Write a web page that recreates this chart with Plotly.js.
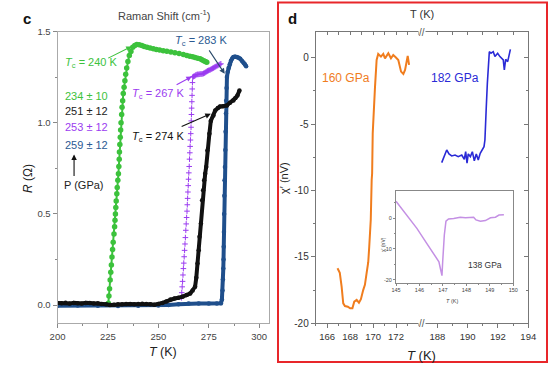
<!DOCTYPE html>
<html><head><meta charset="utf-8">
<script src="https://cdn.plot.ly/plotly-3.0.1.min.js"></script>
<style>html,body{margin:0;padding:0;background:#fff}#chart{width:554px;height:367px}</style>
</head><body><div id="chart"></div>
<script>
// ---------- Panel c data: T (K), R (Ohm) ----------
const greenPts = [[225.2,0.01],[225.5,0.05],[225.8,0.09],[226.1,0.137],[226.4,0.18],[226.7,0.22],[227.0,0.264],[227.3,0.305],[227.6,0.345],[228.0,0.39],[228.3,0.43],[228.5,0.465],[228.7,0.5],[228.9,0.535],[229.1,0.57],[229.4,0.61],[229.6,0.645],[229.9,0.684],[230.2,0.72],[230.4,0.76],[230.6,0.8],[230.7,0.84],[230.9,0.88],[231.1,0.92],[231.3,0.96],[231.5,1.0],[231.8,1.045],[232.0,1.085],[232.3,1.12],[232.6,1.16],[233.0,1.195],[233.4,1.23],[233.8,1.265],[234.3,1.3],[234.9,1.335],[235.6,1.368],[236.4,1.39],[237.3,1.414],[238.3,1.424],[239.3,1.429],[240.5,1.428],[241.8,1.423],[243.0,1.418],[244.4,1.414],[245.9,1.41],[247.5,1.406],[249.0,1.402],[250.6,1.399],[252.4,1.395],[254.2,1.392],[256.2,1.388],[258.2,1.384],[260.3,1.379],[262.4,1.374],[264.1,1.368],[265.6,1.364],[267.0,1.361],[268.2,1.358],[269.5,1.354],[270.7,1.35],[271.6,1.345],[272.5,1.34],[273.3,1.336],[274.0,1.332]];
const purplePts = [[261.5,0.04],[261.6,0.068],[261.8,0.1],[262.0,0.13],[262.2,0.165],[262.4,0.2],[262.6,0.23],[262.8,0.265],[263.0,0.3],[263.2,0.335],[263.4,0.37],[263.6,0.41],[263.8,0.445],[264.0,0.48],[264.2,0.515],[264.35,0.55],[264.5,0.585],[264.65,0.62],[264.8,0.655],[264.95,0.69],[265.1,0.725],[265.3,0.76],[265.45,0.8],[265.6,0.835],[265.75,0.87],[265.9,0.905],[266.05,0.94],[266.2,0.975],[266.3,1.01],[266.4,1.045],[266.5,1.08],[266.6,1.115],[266.7,1.15],[266.8,1.185],[266.9,1.22],[267.0,1.25],[267.4,1.253],[267.8,1.255],[268.2,1.258],[268.6,1.262],[269.1,1.264],[269.5,1.265],[270.0,1.265],[270.5,1.266],[271.0,1.267],[271.5,1.267],[272.0,1.268],[272.4,1.27],[272.8,1.272],[273.2,1.275],[273.6,1.278],[274.0,1.281],[274.4,1.284],[274.8,1.286],[275.2,1.288],[275.7,1.29],[276.1,1.293],[276.5,1.295],[276.9,1.298],[277.3,1.3],[277.7,1.303],[278.1,1.306],[278.5,1.308],[279.0,1.311],[279.5,1.314],[280.0,1.317],[280.5,1.32],[281.0,1.323]];
const blackPts = [[200,0.012],[202,0.01],[204,0.013],[206,0.008],[208,0.012],[210,0.01],[212,0.009],[214,0.012],[216,0.011],[218,0.008],[220,0.01],[222,0.006],[224,0.004],[226,0.0],[228,0.002],[230,0.004],[232,0.005],[234,0.006],[236,0.006],[238,0.005],[240,0.006],[242,0.007],[244,0.006],[246,0.004],[248,0.002],[250,0.006],[252,0.012],[254,0.02],[256,0.03],[258,0.036],[260,0.04],[262,0.045],[264,0.055],[265.8,0.064],[267,0.08],[268.2,0.1],[268.8,0.15],[269.4,0.228],[270,0.3],[270.4,0.374],[271.1,0.447],[271.7,0.575],[272.2,0.63],[272.7,0.684],[273.2,0.72],[273.7,0.757],[274.3,0.848],[275.3,0.94],[276.0,1.01],[277.3,1.04],[278.2,1.067],[279.5,1.08],[280.6,1.089],[282,1.09],[284,1.095],[285.5,1.11],[287.2,1.122],[288.2,1.135],[289.2,1.149],[290.2,1.177]];
const navyPts = [[200,-0.004],[210,-0.003],[220,-0.004],[230,-0.005],[240,-0.004],[250,-0.002],[255,0.0],[260,0.004],[265,0.008],[270,0.008],[275,0.008],[279,0.008],[281,0.01],[281.5,0.03],[281.8,0.08],[282.0,0.14],[282.2,0.2],[282.3,0.25],[282.4,0.32],[282.5,0.4],[282.6,0.5],[282.7,0.6],[282.8,0.684],[283.0,0.757],[283.2,0.85],[283.3,0.95],[283.5,1.05],[283.6,1.12],[283.8,1.19],[284.0,1.25],[284.4,1.28],[284.8,1.3],[285.4,1.32],[286.0,1.34],[286.6,1.352],[287.2,1.36],[288.0,1.362],[288.9,1.36],[289.8,1.356],[290.6,1.35],[291.4,1.34],[292.2,1.33],[292.9,1.32],[293.5,1.31]];
const pressureLabels = ['234 ± 10','251 ± 12','253 ± 12','259 ± 12'];
const tcLabels = ['240','267','274','283'];

// ---------- Panel d data: T (K), chi' (nV) ----------
const orangePts = [[166.9,-15.86],[167.1,-16.2],[167.26,-17.24],[167.4,-18.5],[167.55,-18.7],[167.8,-18.75],[168.0,-18.87],[168.2,-18.87],[168.36,-18.37],[168.57,-18.24],[168.77,-18.45],[168.94,-18.19],[169.14,-17.5],[169.29,-17.1],[169.44,-16.2],[169.58,-15.4],[169.67,-14.2],[169.8,-12.2],[169.88,-9.2],[169.92,-8.7],[169.97,-5.7],[170.05,-3.9],[170.17,-2.2],[170.31,-0.17],[170.45,0.28],[170.69,0.08],[170.89,0.28],[171.04,-0.05],[171.33,0.33],[171.56,-0.05],[171.76,0.2],[171.97,0.03],[172.2,-0.17],[172.44,-1.05],[172.64,-1.23],[172.79,-0.93],[172.93,-0.05],[173.02,0.13],[173.14,-0.55]];
const blue182Pts = [[188.29,-7.9],[188.46,-7.45],[188.62,-6.95],[188.77,-7.25],[188.95,-7.4],[189.17,-7.33],[189.38,-7.45],[189.61,-7.33],[189.78,-7.65],[189.87,-7.08],[189.96,-7.95],[190.04,-7.25],[190.18,-7.45],[190.31,-7.08],[190.44,-7.76],[190.57,-7.25],[190.7,-7.7],[190.83,-7.2],[190.97,-6.95],[191.08,-6.7],[191.14,-6.2],[191.19,-5.2],[191.23,-3.7],[191.3,-1.93],[191.36,-0.68],[191.43,0.45],[191.54,0.33],[191.69,0.45],[191.8,0.08],[191.98,0.33],[192.13,0.08],[192.25,-0.05],[192.35,-0.17],[192.42,-0.93],[192.51,-0.12],[192.64,-0.3],[192.73,0.08],[192.82,0.63]];
const insetPts = [[145.0,5.5],[145.46,0.97],[145.89,-3.35],[146.31,-8.2],[146.6,-11.5],[146.74,-13.3],[146.83,-14.2],[146.89,-16.3],[146.93,-18.5],[146.96,-18.7],[146.99,-14.2],[147.06,-5.5],[147.13,-1.0],[147.24,-0.3],[147.46,-0.1],[147.74,0.3],[147.96,0.1],[148.17,0.2],[148.31,0.3],[148.41,-0.6],[148.6,-1.0],[148.81,-0.8],[149.03,0.1],[149.24,0.3],[149.39,1.0],[149.6,1.1]];
const dYTicks = [0,-5,-10,-15,-20];
const dYLabels = ['0','-5','-10','-15','-20'];
const dLeftTicks = [166,168,170,172];
const dRightTicks = [188,190,192,194];
const insetYTicks = [0,-10,-20];
const insetYLabels = ['0','-10','-20'];
const insetXTicks = [145,146,147,148,149,150];

// ---------- helpers ----------
const W = 554, H = 367;
const PX = v => v / W, PY = v => 1 - v / H;
const xs = a => a.map(p => p[0]), ys = a => a.map(p => p[1]);
const FONT = 'Arial, "Liberation Sans", sans-serif';
const C = {green:'#3cc23c', purple:'#9b3cf0', black:'#111111', navy:'#1f4f8c', orange:'#f07d1e', blue:'#2a2ad6', inset:'#c490e4'};

const traces = [
  {x:xs(greenPts), y:ys(greenPts), mode:'lines+markers', line:{color:C.green,width:2}, marker:{color:C.green,size:5.5}, xaxis:'x', yaxis:'y'},
  {x:xs(purplePts), y:ys(purplePts), mode:'markers', marker:{symbol:'cross-thin', size:4, line:{color:C.purple,width:1}, color:C.purple}, xaxis:'x', yaxis:'y'},
  {x:xs(navyPts), y:ys(navyPts), mode:'lines+markers', line:{color:C.navy,width:4}, marker:{color:C.navy,size:4.5}, xaxis:'x', yaxis:'y'},
  {x:xs(blackPts), y:ys(blackPts), mode:'lines+markers', line:{color:C.black,width:4}, marker:{color:C.black,size:4.5}, xaxis:'x', yaxis:'y'},
  {x:xs(orangePts), y:ys(orangePts), mode:'lines', line:{color:C.orange,width:2}, xaxis:'x2', yaxis:'y2'},
  {x:xs(blue182Pts), y:ys(blue182Pts), mode:'lines', line:{color:C.blue,width:1.6}, xaxis:'x3', yaxis:'y2'},
  {x:xs(insetPts), y:ys(insetPts), mode:'lines', line:{color:C.inset,width:1.5}, xaxis:'x4', yaxis:'y4'},
  {x:[], y:[], xaxis:'x5', yaxis:'y2', mode:'lines'},
  {x:[], y:[], xaxis:'x6', yaxis:'y2', mode:'lines'},
  {x:[], y:[], xaxis:'x3', yaxis:'y3', mode:'lines'}
];

const tickFont = {family:FONT, size:9.5, color:'#444'};
const dRangeY = [-20.001, 1.91];

const layout = {
  width:W, height:H, autosize:false, showlegend:false,
  margin:{l:0,r:0,t:0,b:0,pad:0},
  paper_bgcolor:'#fff', plot_bgcolor:'rgba(0,0,0,0)',
  font:{family:FONT},
  // panel c
  xaxis:{domain:[PX(57.5),PX(269.3)], range:[199.99,305], anchor:'y', dtick:25, tick0:200,
    showline:true, mirror:true, linecolor:'#aaa', linewidth:1, ticks:'outside', ticklen:4, tickcolor:'#888',
    minor:{ticks:'outside', ticklen:2, dtick:12.5, tick0:200, tickcolor:'#888'},
    showgrid:false, zeroline:false, tickfont:tickFont},
  yaxis:{domain:[PY(323.3),PY(31.5)], range:[-0.1,1.5001], anchor:'x', dtick:0.5, tick0:0, tickformat:'.1f',
    showline:true, mirror:true, linecolor:'#aaa', linewidth:1, ticks:'outside', ticklen:4, tickcolor:'#888',
    minor:{ticks:'outside', ticklen:2, dtick:0.25, tick0:0, tickcolor:'#888'},
    showgrid:false, zeroline:false, tickfont:tickFont},
  // panel d main
  xaxis2:{domain:[PX(315.7),PX(421.7)], range:[165,174.24], anchor:'y2', tickvals:dLeftTicks,
    showline:true, linecolor:'#777', ticks:'outside', ticklen:4, tickcolor:'#777',
    minor:{ticks:'outside', ticklen:2, dtick:1, tick0:165, tickcolor:'#777'},
    showgrid:false, zeroline:false, tickfont:{family:FONT,size:9.5,color:'#333'}},
  xaxis3:{domain:[PX(421.7),PX(528.3)], range:[186.97,194.001], anchor:'y2', tickvals:dRightTicks,
    showline:true, linecolor:'#777', ticks:'outside', ticklen:4, tickcolor:'#777',
    minor:{ticks:'outside', ticklen:2, dtick:1, tick0:187, tickcolor:'#777'},
    showgrid:false, zeroline:false, tickfont:{family:FONT,size:9.5,color:'#333'}},
  yaxis2:{domain:[PY(323.3),PY(32.3)], range:dRangeY, anchor:'x2', tickvals:dYTicks, ticktext:dYLabels,
    showline:true, linecolor:'#777', ticks:'outside', ticklen:4, tickcolor:'#777',
    minor:{ticks:'outside', ticklen:2, dtick:2.5, tick0:0, tickcolor:'#777'},
    showgrid:false, zeroline:false, tickfont:{family:FONT,size:10,color:'#333'}},
  xaxis5:{overlaying:'x2', side:'top', anchor:'y2', range:[165,174.24], dtick:1, tick0:165,
    showline:true, linecolor:'#777', ticks:'inside', ticklen:3, tickcolor:'#777', showticklabels:false, showgrid:false, zeroline:false},
  xaxis6:{overlaying:'x3', side:'top', anchor:'y2', range:[186.97,194.001], dtick:1, tick0:187,
    showline:true, linecolor:'#777', ticks:'inside', ticklen:3, tickcolor:'#777', showticklabels:false, showgrid:false, zeroline:false},
  yaxis3:{overlaying:'y2', side:'right', anchor:'x3', range:dRangeY, tickvals:dYTicks,
    showline:true, linecolor:'#777', ticks:'inside', ticklen:4, tickcolor:'#777', showticklabels:false,
    minor:{ticks:'inside', ticklen:2, dtick:2.5, tick0:0, tickcolor:'#777'}, showgrid:false, zeroline:false},
  // inset
  xaxis4:{domain:[PX(396),PX(513.3)], range:[145,150.001], anchor:'y4', tickvals:insetXTicks,
    showline:true, mirror:true, linecolor:'#888', ticks:'outside', ticklen:2, tickcolor:'#888',
    minor:{ticks:'outside', ticklen:1.5, dtick:0.5, tick0:145, tickcolor:'#888'},
    showgrid:false, zeroline:false, tickfont:{family:FONT,size:5.5,color:'#444'}},
  yaxis4:{domain:[PY(282.7),PY(191)], range:[-21,8.8], anchor:'x4', tickvals:insetYTicks, ticktext:insetYLabels,
    showline:true, mirror:true, linecolor:'#888', ticks:'outside', ticklen:2, tickcolor:'#888',
    minor:{ticks:'outside', ticklen:1.5, dtick:5, tick0:0, tickcolor:'#888'},
    showgrid:false, zeroline:false, tickfont:{family:FONT,size:5.5,color:'#444'}},
  shapes:[
    {type:'rect', xref:'paper', yref:'paper', x0:PX(278), x1:PX(547), y0:PY(362), y1:PY(2.5), line:{color:'#e8262a', width:2}}
  ],
  annotations:[]
};

const A = layout.annotations;
function txt(x, y, text, size, color, extra) {
  A.push(Object.assign({xref:'paper', yref:'paper', x:PX(x), y:PY(y), text:text, showarrow:false,
    font:{family:FONT, size:size, color:color}, xanchor:'center', yanchor:'middle'}, extra || {}));
}
function arrow(x, y, ax, ay, color, xr, yr, head) {
  A.push({xref:xr, yref:yr, axref:xr, ayref:yr, x:x, y:y, ax:ax, ay:ay, text:'', showarrow:true,
    arrowhead:head, arrowsize:1, arrowwidth:1.1, arrowcolor:color, standoff:0, startstandoff:0});
}
// panel c texts
txt(27, 18, '<b>c</b>', 15, '#111');
txt(164, 15, 'Raman Shift (cm<sup>-1</sup>)', 11, '#444');
txt(63, 63, '<i>T</i><sub>c</sub> = ' + tcLabels[0] + ' K', 11, C.green, {xanchor:'left'});
txt(63, 96, pressureLabels[0], 11, C.green, {xanchor:'left'});
txt(63, 110.7, pressureLabels[1], 11, '#222', {xanchor:'left'});
txt(63, 127.3, pressureLabels[2], 11, C.purple, {xanchor:'left'});
txt(63, 145, pressureLabels[3], 11, '#2b5a92', {xanchor:'left'});
txt(62, 185, 'P (GPa)', 11, '#222', {xanchor:'left'});
txt(130, 94.3, '<i>T</i><sub>c</sub> = ' + tcLabels[1] + ' K', 11, C.purple, {xanchor:'left'});
txt(130, 136.7, '<i>T</i><sub>c</sub> = ' + tcLabels[2] + ' K', 11, '#111', {xanchor:'left'});
txt(173, 40.7, '<i>T</i><sub>c</sub> = ' + tcLabels[3] + ' K', 11, '#2b5a92', {xanchor:'left'});
txt(163, 352, '<i>T</i> (K)', 12.5, '#222');
txt(28, 178, '<i>R</i> (Ω)', 12, '#222', {textangle:-90});
arrow(236.8, 1.418, 224.4, 1.35, C.green, 'x', 'y', 2);
arrow(266.6, 1.253, 258.3, 1.204, C.purple, 'x', 'y', 2);
arrow(276.0, 1.049, 260.8, 0.976, '#111', 'x', 'y', 2);
arrow(282.9, 1.268, 274.7, 1.405, '#2b4a6a', 'x', 'y', 2);
arrow(208.2, 0.826, 208.2, 0.70, '#111', 'x', 'y', 2);
// panel d texts
txt(292, 18, '<b>d</b>', 15, '#111');
txt(421.7, 14, 'T (K)', 11, '#333');
txt(346, 78, '160 GPa', 12, C.orange);
txt(454.5, 78, '182 GPa', 12, C.blue);
txt(484.7, 265, '138 GPa', 8.5, '#333');
txt(421, 355, '<i>T</i> (K)', 13, '#222');
txt(284, 178, 'χ′ (nV)', 11, '#222', {textangle:-90});
txt(383, 245, 'χ′ (nV)', 5, '#444', {textangle:-90});
txt(452, 300.5, '<i>T</i> (K)', 5.5, '#444');
txt(421.7, 32.3, '//', 10, '#555', {bgcolor:'#fff', borderpad:0});
txt(421.7, 323.3, '//', 10, '#555', {bgcolor:'#fff', borderpad:0});

Plotly.newPlot('chart', traces, layout, {staticPlot:true, displayModeBar:false});
</script></body></html>
